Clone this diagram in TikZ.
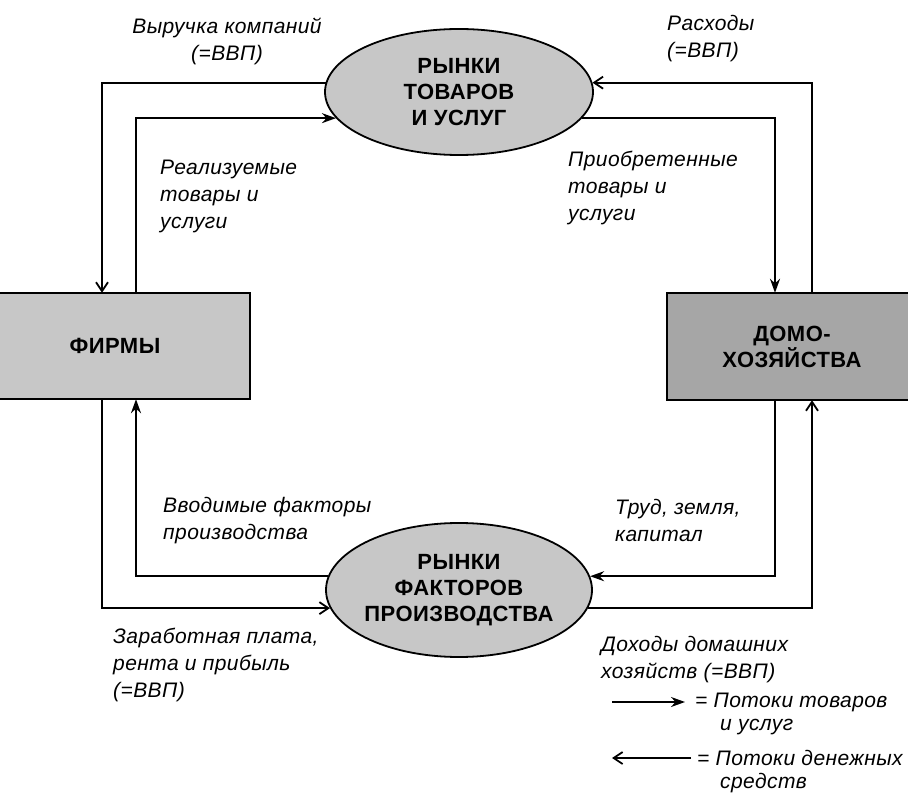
\documentclass[tikz,border=0pt]{standalone}
\usepackage{fontspec}
\setmainfont{Liberation Sans}
\newfontfamily\lblfont[LetterSpace=2]{Liberation Sans}
\newfontfamily\boxfont[LetterSpace=2]{Liberation Sans}
\usetikzlibrary{arrows.meta,shapes.geometric}

\begin{document}
\begin{tikzpicture}[x=1pt,y=-1pt,
  market/.style={ellipse, draw=black, line width=1.8pt, fill=black!22, inner sep=0pt, align=center,
    font=\boxfont\fontsize{22}{26}\selectfont\bfseries},
  sector/.style={rectangle, draw=none, inner sep=0pt, align=center,
    font=\boxfont\fontsize{22}{26}\selectfont\bfseries},
  lbl/.style={inner sep=0pt, align=left, font=\lblfont\itshape\fontsize{21}{27}\selectfont},
  flow/.style={line width=1.8pt},
  goodsflow/.style={flow, -{Stealth[length=14pt,width=10pt]}},
  moneyflow/.style={flow, -{Straight Barb[length=9pt,width=12pt]}}]
\useasboundingbox (0,0) rectangle (908,810);

\node[market, minimum width=268pt, minimum height=126pt] (goods) at (459,92) {РЫНКИ\\ТОВАРОВ\\И УСЛУГ};
\node[market, minimum width=266pt, minimum height=134pt, inner xsep=-6pt] (factors) at (459,590) {РЫНКИ\\ФАКТОРОВ\\ПРОИЗВОДСТВА};
\node[sector, fill=black!22, minimum width=270pt, minimum height=106pt] (firms) at (115,346) {ФИРМЫ};
\node[sector, fill=black!35, minimum width=250pt, minimum height=107pt] (hh) at (792,346.5) {ДОМО-\\ХОЗЯЙСТВА};
\draw[line width=2.4pt] (firms.north west) -- (firms.north east) -- (firms.south east) -- (firms.south west);
\draw[line width=2.4pt] (hh.north east) -- (hh.north west) -- (hh.south west) -- (hh.south east);

\coordinate (xo) at (102,0);
\coordinate (xi) at (136,0);
\coordinate (xI) at (775,0);
\coordinate (xO) at (812,0);

\draw[moneyflow] (goods.176) -| (firms.north -| xo);
\draw[goodsflow] (firms.north -| xi) |- (goods.192);
\draw[moneyflow] (hh.north -| xO) |- (goods.4);
\draw[goodsflow] (goods.-12) -| (hh.north -| xI);
\draw[goodsflow] (factors.174) -| (firms.south -| xi);
\draw[moneyflow] (firms.south -| xo) |- (factors.188);
\draw[goodsflow] (hh.south -| xI) |- (factors.6);
\draw[moneyflow] (factors.-8) -| (hh.south -| xO);

\node[lbl, align=center] (revenue) at (227,41) {Выручка компаний\\(=ВВП)};
\node[lbl, anchor=west] (spend) at (667,39) {Расходы\\(=ВВП)};
\node[lbl, anchor=west] (sold) at (160,196) {Реализуемые\\товары и\\услуги};
\node[lbl, anchor=west] (bought) at (568,188) {Приобретенные\\товары и\\услуги};
\node[lbl, anchor=west] (inputs) at (163,521) {Вводимые факторы\\производства};
\node[lbl, anchor=west] (labour) at (615,520) {Труд, земля,\\капитал};
\node[lbl, anchor=west] (wages) at (113,665) {Заработная плата,\\рента и прибыль\\(=ВВП)};
\node[lbl, anchor=west] (income) at (601,660) {Доходы домашних\\хозяйств (=ВВП)};

\node[lbl, anchor=west] (keygoods) at (695,702) {= Потоки товаров};
\node[lbl, anchor=west] (keygoodsb) at (720,727) {и услуг};
\node[lbl, anchor=west] (keymoney) at (697,758) {= Потоки денежных};
\node[lbl, anchor=west] (keymoneyb) at (720,783) {средств};
\coordinate (keygoodsfrom) at (612,702);
\coordinate (keymoneyto) at (612,758);
\draw[goodsflow] (keygoodsfrom) -- ([xshift=-10pt]keygoods.west);
\draw[moneyflow] ([xshift=-6pt]keymoney.west) -- (keymoneyto);
\end{tikzpicture}
\end{document}
